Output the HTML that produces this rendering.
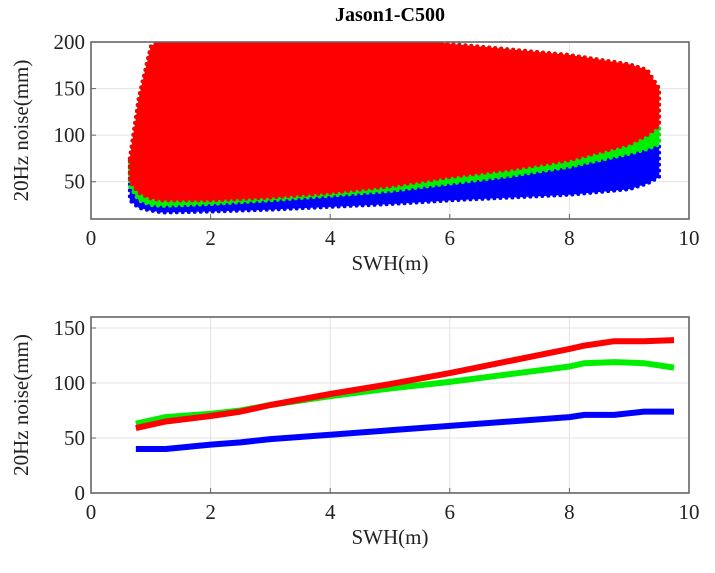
<!DOCTYPE html>
<html><head><meta charset="utf-8"><style>
body{margin:0;background:#fff}
svg{display:block;font-family:"Liberation Serif",serif}
</style></head><body>
<svg id="c" width="715" height="573"></svg>
<script>
const scatterX=[0.65,0.8,1,1.2,2,3,4,5,6,7,8,9,9.3,9.5];
const blueLower=[30,22,19,17,18,20,23,26,30,33,36,42,48,55];
const greenLower=[45,30,25,24,26,30,35,40,48,56,66,80,85,90];
const redLower=[50,38,32,30,30,33,38,45,55,63,73,90,100,110];
const redUpper=[75,140,195,205,205,205,205,205,198,192,186,176,170,150];
const lineX=[0.75,1.25,2,2.5,3,4,5,6,7,8,8.25,8.75,9.25,9.75];
const redLine=[59,65,70,74,80,90,99,109,120,131,134,138,138,139];
const greenLine=[63,69,72,75,80,88,95,101,108,115,118,119,118,114];
const blueLine=[40,40,44,46,49,53,57,61,65,69,71,71,74,74];
const xTicks=[0,2,4,6,8,10];
const yTicksTop=[50,100,150,200];
const yTicksBot=[0,50,100,150];

const NS="http://www.w3.org/2000/svg";
const svg=document.getElementById('c');
function mk(t,a,p){const e=document.createElementNS(NS,t);for(const k in a)e.setAttribute(k,a[k]);(p||svg).appendChild(e);return e;}
const L=91,R=689;
function xs(v){return L+(R-L)*v/10;}
const top1={t:42,b:219,min:10,max:200};
const bot={t:317,b:493,min:0,max:160};
function ys(ax,v){return ax.b-(ax.b-ax.t)*(v-ax.min)/(ax.max-ax.min);}

function axes(ax,yt,name){
  const g=mk('g',{});
  
  
  xTicks.forEach(v=>{const x=xs(v);mk('line',{x1:x,x2:x,y1:ax.t,y2:ax.b,stroke:'#e3e3e3','stroke-width':1},g);});
  yt.forEach(v=>{const y=ys(ax,v);mk('line',{x1:L,x2:R,y1:y,y2:y,stroke:'#e3e3e3','stroke-width':1},g);});
}
function frame(ax,yt,name){
  const g=mk('g',{});
  
  
  mk('rect',{x:L,y:ax.t,width:R-L,height:ax.b-ax.t,fill:'none',stroke:'#666','stroke-width':1.6},g);
  xTicks.forEach(v=>{const x=xs(v);
    mk('line',{x1:x,x2:x,y1:ax.b,y2:ax.b-5,stroke:'#666'},g);
    const t=mk('text',{x:x,y:ax.b+26,'text-anchor':'middle','font-size':21,fill:'#222'},g);t.textContent=v;
    
    });
  yt.forEach(v=>{const y=ys(ax,v);
    mk('line',{x1:L,x2:L+5,y1:y,y2:y,stroke:'#666'},g);
    const t=mk('text',{x:L-6,y:y+7,'text-anchor':'end','font-size':21,fill:'#222'},g);t.textContent=v;
    
    });
  const xl=mk('text',{x:(L+R)/2,y:ax.b+51,'text-anchor':'middle','font-size':21,fill:'#222'},g);xl.textContent='SWH(m)';
  
  
  const cy=(ax.t+ax.b)/2;
  const yl=mk('text',{x:28,y:cy,'text-anchor':'middle','font-size':21,fill:'#222',transform:`rotate(-90 28 ${cy})`},g);yl.textContent='20Hz noise(mm)';
  
  
}
axes(top1,yTicksTop,'top');
axes(bot,yTicksBot,'bottom');

const defs=mk('defs',{});
const cl=mk('clipPath',{id:'cp'},defs);mk('rect',{x:L,y:top1.t,width:R-L,height:top1.b-top1.t},cl);
const sg=mk('g',{'clip-path':'url(#cp)'});


function env(lower,upper,col,name){
  let pts=[];
  scatterX.forEach((x,i)=>pts.push(xs(x)+','+ys(top1,upper[i])));
  for(let i=scatterX.length-1;i>=0;i--)pts.push(xs(scatterX[i])+','+ys(top1,lower[i]));
  const p=mk('polygon',{points:pts.join(' '),fill:col,stroke:col,'stroke-width':4,'stroke-dasharray':'0 6','stroke-linecap':'round','stroke-linejoin':'round'},sg);
  
  
}
env(blueLower,redUpper,'#0000ff','blue-scatter');
env(greenLower,redUpper,'#00ee00','green-scatter');
env(redLower,redUpper,'#ff0000','red-scatter');

function line(vals,col,name){
  const d=lineX.map((x,i)=>(i?'L':'M')+xs(x)+' '+ys(bot,vals[i])).join(' ');
  const p=mk('path',{d:d,fill:'none',stroke:col,'stroke-width':6,'stroke-linejoin':'round'});
  
  
}
line(blueLine,'#0000ff','blue-line');
line(greenLine,'#00ee00','green-line');
line(redLine,'#ff0000','red-line');

frame(top1,yTicksTop,'top');
frame(bot,yTicksBot,'bottom');
const t=mk('text',{x:390,y:21,'text-anchor':'middle','font-size':20,'font-weight':'bold',fill:'#000'});
t.textContent='Jason1-C500';


</script>
</body></html>
